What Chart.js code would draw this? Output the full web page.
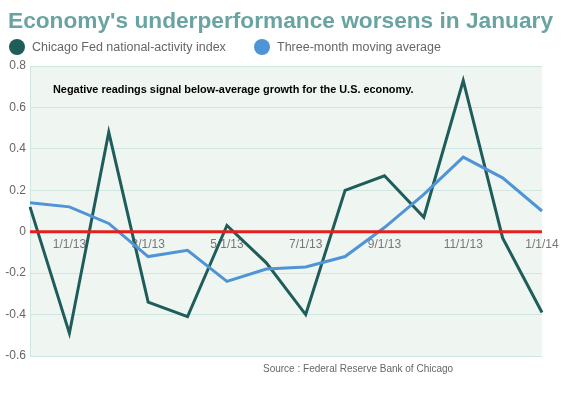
<!DOCTYPE html>
<html>
<head>
<meta charset="utf-8">
<script src="https://cdn.jsdelivr.net/npm/chart.js@4.4.1/dist/chart.umd.min.js"></script>
<style>
  body { margin: 0; background: #fff; }
  #wrap { position: relative; width: 569px; height: 398px; }
</style>
</head>
<body>
<div id="wrap"><canvas id="cfnaiChart"></canvas></div>
<script>
const months = ['12/1/12', '1/1/13', '2/1/13', '3/1/13', '4/1/13', '5/1/13', '6/1/13',
    '7/1/13', '8/1/13', '9/1/13', '10/1/13', '11/1/13', '12/1/13', '1/1/14'];
const activityIndex = [0.12, -0.49, 0.48, -0.34, -0.41, 0.03, -0.15, -0.40, 0.20, 0.27, 0.07, 0.73, -0.03, -0.39];
const movingAverage = [0.14, 0.12, 0.04, -0.12, -0.09, -0.24, -0.18, -0.17, -0.12, 0.02, 0.18, 0.36, 0.26, 0.10];
const yTicks = [0.8, 0.6, 0.4, 0.2, 0, -0.2, -0.4, -0.6];

const darkTeal = '#1f5d5a';
const blue = '#4f94d6';
const gridColor = '#cfe6e1';

// background, zero line and the text around the plot
const decorations = {
    id: 'decorations',
    beforeDraw(chart) {
        const { ctx, chartArea } = chart;
        ctx.save();
        ctx.fillStyle = '#eff6f1';
        ctx.fillRect(chartArea.left, chartArea.top, chartArea.right - chartArea.left, chartArea.bottom - chartArea.top);
        ctx.restore();
    },
    afterDatasetsDraw(chart) {
        const { ctx, chartArea, scales } = chart;
        const y0 = scales.y.getPixelForValue(0);
        ctx.save();
        ctx.strokeStyle = '#e3201c';
        ctx.lineWidth = 3;
        ctx.beginPath();
        ctx.moveTo(chartArea.left, y0);
        ctx.lineTo(chartArea.right, y0);
        ctx.stroke();
        ctx.restore();
    },
    afterDraw(chart) {
        const { ctx } = chart;
        ctx.save();
        ctx.textBaseline = 'middle';

        // title
        ctx.fillStyle = '#6aa4a2';
        ctx.font = 'bold 22.7px "Liberation Sans", Arial, sans-serif';
        ctx.textAlign = 'left';
        ctx.fillText("Economy's underperformance worsens in January", 8, 22);

        // legend
        const items = [
            { label: 'Chicago Fed national-activity index', color: darkTeal, x: 17 },
            { label: 'Three-month moving average', color: blue, x: 262 }
        ];
        ctx.font = '12.5px "Liberation Sans", Arial, sans-serif';
        items.forEach(item => {
            ctx.fillStyle = item.color;
            ctx.beginPath();
            ctx.arc(item.x, 47, 8, 0, Math.PI * 2);
            ctx.fill();
            ctx.fillStyle = '#666';
            ctx.fillText(item.label, item.x + 15, 48);
        });

        // note inside the plot
        ctx.fillStyle = '#000';
        ctx.font = 'bold 10.9px "Liberation Sans", Arial, sans-serif';
        ctx.fillText('Negative readings signal below-average growth for the U.S. economy.', 53, 90);

        // source
        ctx.fillStyle = '#666';
        ctx.font = '10px "Liberation Sans", Arial, sans-serif';
        ctx.fillText('Source : Federal Reserve Bank of Chicago', 263, 369);
        ctx.restore();
    }
};

const cfnaiChart = new Chart(document.getElementById('cfnaiChart'), {
    type: 'line',
    data: {
        labels: months,
        datasets: [{
            label: 'Chicago Fed national-activity index',
            data: activityIndex,
            borderColor: darkTeal,
            borderWidth: 3,
            pointRadius: 0,
            tension: 0,
            order: 1
        }, {
            label: 'Three-month moving average',
            data: movingAverage,
            borderColor: blue,
            borderWidth: 3,
            pointRadius: 0,
            tension: 0,
            order: 0
        }]
    },
    options: {
        responsive: true,
        maintainAspectRatio: false,
        animation: false,
        layout: { padding: { top: 66, right: 27, bottom: 42, left: 0 } },
        plugins: {
            legend: { display: false },
            title: { display: false },
            tooltip: { enabled: false }
        },
        scales: {
            x: {
                position: { y: 0 },
                grid: { display: false },
                border: { display: false },
                ticks: {
                    autoSkip: false,
                    maxRotation: 0,
                    padding: -2,
                    color: '#777',
                    font: { family: '"Liberation Sans", Arial, sans-serif', size: 12 },
                    callback(value, index) {
                        return index % 2 === 1 ? months[index] : '';
                    }
                }
            },
            y: {
                min: -0.6,
                max: 0.8,
                afterFit(scale) { scale.width = 30; },
                afterBuildTicks(scale) { scale.ticks = yTicks.map(v => ({ value: v })); },
                grid: { color: gridColor, drawTicks: false },
                border: { color: gridColor },
                ticks: {
                    padding: 4,
                    color: '#666',
                    font: { family: '"Liberation Sans", Arial, sans-serif', size: 12 },
                    callback(value) { return String(Math.round(value * 10) / 10); }
                }
            }
        }
    },
    plugins: [decorations]
});
</script>
</body>
</html>
